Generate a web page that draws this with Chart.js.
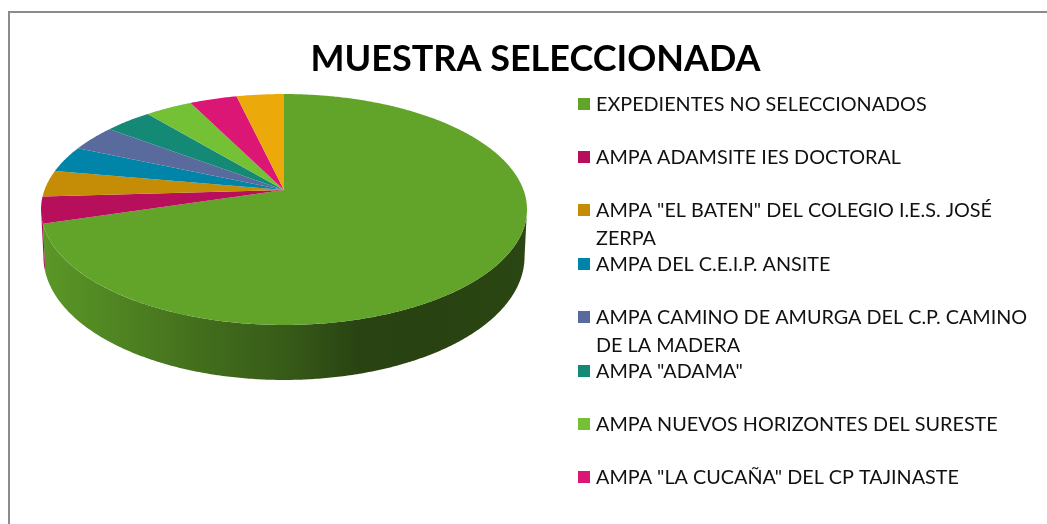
<!DOCTYPE html>
<html>
<head>
<meta charset="utf-8">
<script src="https://cdn.jsdelivr.net/npm/chart.js@4"></script>
<style>html,body{margin:0;padding:0;background:#fff;overflow:hidden}canvas{display:block}</style>
</head>
<body>
<canvas id="c" width="1047" height="524"></canvas>
<script>
const titleText = 'MUESTRA SELECCIONADA';
const categories = [
  'EXPEDIENTES NO SELECCIONADOS',
  'AMPA ADAMSITE IES DOCTORAL',
  'AMPA "EL BATEN" DEL COLEGIO I.E.S. JOSÉ ZERPA',
  'AMPA DEL C.E.I.P. ANSITE',
  'AMPA CAMINO DE AMURGA DEL C.P. CAMINO DE LA MADERA',
  'AMPA "ADAMA"',
  'AMPA NUEVOS HORIZONTES DEL SURESTE',
  'AMPA "LA CUCAÑA" DEL CP TAJINASTE',
  ''
];
const values = [19, 1, 1, 1, 1, 1, 1, 1, 1];
const colors = ['#62a32a','#b80f5c','#c58c05','#0084a8','#586b9c','#148976','#74c136','#dc1675','#eca90a'];
const legendLines = [
  ['EXPEDIENTES NO SELECCIONADOS'],
  ['AMPA ADAMSITE IES DOCTORAL'],
  ['AMPA "EL BATEN" DEL COLEGIO I.E.S. JOSÉ','ZERPA'],
  ['AMPA DEL C.E.I.P. ANSITE'],
  ['AMPA CAMINO DE AMURGA DEL C.P. CAMINO','DE LA MADERA'],
  ['AMPA "ADAMA"'],
  ['AMPA NUEVOS HORIZONTES DEL SURESTE'],
  ['AMPA "LA CUCAÑA" DEL CP TAJINASTE']
];

// view of the tilted disc
const CX = 284, CY = 190, K = 239.5, A = 80.1, P = -0.1688;
const top3d = a => {
  const u = Math.cos(a), v = Math.sin(a), w = 1 + P * v;
  return [CX + K * u / w, (A * v + CY) / w];
};
const bottom3d = a => {
  const [x, y] = top3d(a), v = Math.sin(a);
  return [CX + (x - CX) * 0.99, y + 45.5 + 9.5 * v];
};
const VIS0 = Math.asin(-P), VIS1 = Math.PI - VIS0;
const shade = (hex, f) => {
  const n = parseInt(hex.slice(1), 16);
  return `rgb(${Math.round((n >> 16) * f)},${Math.round(((n >> 8) & 255) * f)},${Math.round((n & 255) * f)})`;
};
const STEP = Math.PI / 360;
function arcPts(fn, a0, a1) {
  const pts = [], n = Math.max(2, Math.ceil((a1 - a0) / STEP));
  for (let i = 0; i <= n; i++) pts.push(fn(a0 + (a1 - a0) * i / n));
  return pts;
}

const disc3d = {
  id: 'disc3d',
  beforeDatasetDraw(chart, args) {
    const ctx = chart.ctx, arcs = chart.getDatasetMeta(args.index).data;
    const hexes = chart.data.datasets[args.index].backgroundColor;
    // rim
    arcs.forEach((el, i) => {
      const s = Math.max(el.startAngle, VIS0), e = Math.min(el.endAngle, VIS1);
      if (e <= s) return;
      const g = ctx.createLinearGradient(41, 0, 527, 0);
      [[0, .93], [.12, .84], [.32, .68], [.5, .56], [.65, .42], [.8, .41], [1, .43]]
        .forEach(([p, f]) => g.addColorStop(p, shade(hexes[i], f)));
      const t = arcPts(top3d, s, e), b = arcPts(bottom3d, s, e).reverse();
      ctx.beginPath();
      t.concat(b).forEach((p, k) => k ? ctx.lineTo(p[0], p[1]) : ctx.moveTo(p[0], p[1]));
      ctx.closePath();
      ctx.fillStyle = g;
      ctx.fill();
    });
    // top face
    arcs.forEach((el, i) => {
      ctx.beginPath();
      ctx.moveTo(CX, CY);
      arcPts(top3d, el.startAngle, el.endAngle).forEach(p => ctx.lineTo(p[0], p[1]));
      ctx.closePath();
      ctx.fillStyle = hexes[i];
      ctx.fill();
    });
    return false;
  },
  beforeDraw(chart) {
    const ctx = chart.ctx;
    ctx.save();
    ctx.fillStyle = '#fff';
    ctx.fillRect(0, 0, 1047, 524);
    ctx.strokeStyle = '#8c8c8c';
    ctx.lineWidth = 2;
    ctx.beginPath();
    ctx.moveTo(9, 524);
    ctx.lineTo(9, 12);
    ctx.lineTo(1047, 12);
    ctx.stroke();
    ctx.restore();
  },
  afterDraw(chart) {
    const ctx = chart.ctx;
    ctx.save();
    ctx.font = '19.8px Lato';
    ctx.textBaseline = 'middle';
    const rowY = [104, 157, 210, 264, 317, 371, 424, 477];
    legendLines.forEach((lines, i) => {
      ctx.fillStyle = colors[i];
      ctx.fillRect(578, rowY[i] - 6, 12, 12);
      ctx.fillStyle = '#111';
      lines.forEach((t, k) => ctx.fillText(t, 596, rowY[i] + 1 + k * 28));
    });
    ctx.restore();
  }
};

new Chart(document.getElementById('c'), {
  type: 'pie',
  data: { labels: categories, datasets: [{ data: values, backgroundColor: colors, borderWidth: 0 }] },
  options: {
    responsive: false,
    animation: false,
    layout: { padding: { top: 38, left: 24 } },
    plugins: {
      legend: { display: false },
      tooltip: { enabled: false },
      title: {
        display: true,
        text: titleText,
        color: '#000',
        font: { family: 'Lato', size: 36, weight: 'bold' },
        align: 'center',
        padding: 0
      }
    }
  },
  plugins: [disc3d]
});
</script>
</body>
</html>
